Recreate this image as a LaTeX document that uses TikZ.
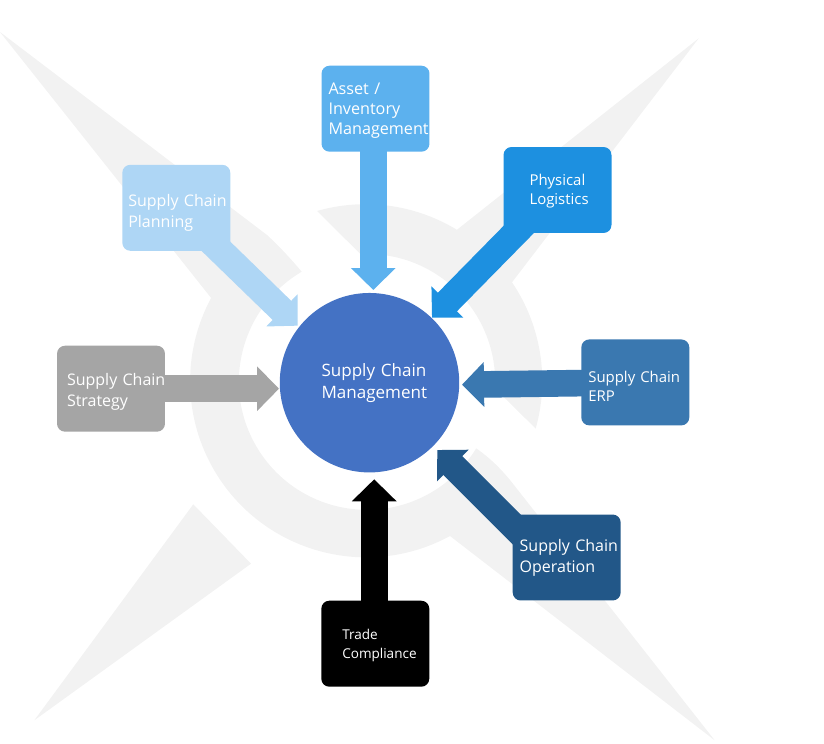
\documentclass[tikz,border=0pt]{standalone}
\usepackage{fontspec}
\setmainfont{Open Sans}
\usetikzlibrary{arrows.meta,backgrounds}
\definecolor{starfill}{HTML}{F2F2F2}
\definecolor{hubfill}{HTML}{4472C4}
\definecolor{planfill}{HTML}{AED6F5}
\definecolor{assetfill}{HTML}{5CB1EE}
\definecolor{physfill}{HTML}{1D90E0}
\definecolor{erpfill}{HTML}{3A78B0}
\definecolor{opfill}{HTML}{225788}
\definecolor{stratfill}{HTML}{A5A5A5}
\newcommand{\dropline}[1]{\rule{0pt}{#1}}
\tikzset{
  chainbox/.style={rectangle, rounded corners=.16cm, minimum width=2.16cm, minimum height=1.72cm, inner sep=0pt, text=white, align=left, font=\fontsize{9.1}{11.95}\selectfont},
  smallbox/.style={chainbox, font=\fontsize{8.5}{10.8}\selectfont},
  flow/.style={line width=.533cm, -{Triangle[length=.44cm,width=.87cm]}}
}
\begin{document}
\begin{tikzpicture}[x=0.02cm,y=-0.02cm]
  \useasboundingbox (0,0) rectangle (824,743);
  \node[circle, fill=hubfill, minimum size=3.59cm, inner sep=0pt, text=white, align=left, text width=1.92cm, font=\fontsize{9.7}{12.5}\selectfont] (hub) at (369.5,382.7) {Supply~Chain\\Management};
  \node[chainbox, fill=planfill, text width=1.92cm] (planning) at (176.3,207.8) {\dropline{13pt}Supply~Chain\\Planning};
  \node[chainbox, fill=assetfill, text width=1.88cm, font=\fontsize{9.2}{11.4}\selectfont] (asset) at (375.5,108.7) {\dropline{8.5pt}Asset /\\Inventory\\Management};
  \node[smallbox, fill=physfill, text width=1.12cm] (physical) at (557.5,190) {\dropline{7.8pt}Physical\\Logistics};
  \node[smallbox, fill=erpfill, text width=1.88cm] (erp) at (635.3,382.4) {\dropline{11pt}Supply~Chain\\ERP};
  \node[chainbox, fill=opfill, text width=1.88cm] (operation) at (566.7,557.5) {Supply~Chain\\Operation};
  \node[smallbox, fill=black, text width=1.32cm, font=\fontsize{7.7}{10.8}\selectfont] (trade) at (375.3,643.7) {\dropline{7.8pt}Trade\\Compliance};
  \node[chainbox, fill=stratfill, text width=1.76cm] (strategy) at (111,388.7) {\dropline{10pt}Supply~Chain\\Strategy};
  \coordinate (planningtip) at (297.7,325.7);
  \coordinate (assettip) at (373.3,290);
  \coordinate (physicaltip) at (432,317.7);
  \coordinate (erptip) at (462,384.7);
  \coordinate (operationtip) at (437.3,450);
  \coordinate (tradetip) at (374.2,479.3);
  \coordinate (strategytip) at (279,388.7);
  \begin{scope}[on background layer]
    \fill[starfill] (0,32) -- (267,235) .. controls (279,246) and (291,259) .. (301.7,271.7)
      arc[start angle=120.6, end angle=328.7, radius=2.56cm]
      .. controls (490,458) and (500,468) .. (510,480) -- (714.7,740.3) -- (450,536)
      arc[start angle=298.5, end angle=151.7, radius=3.52cm] -- cycle;
    \fill[starfill] (317,211) arc[start angle=106, end angle=58.7, radius=3.52cm]
      -- (698.7,38.3) -- (512,282.3)
      arc[start angle=34.1, end angle=-15.7, radius=3.52cm] -- (495,388.4)
      arc[start angle=-2.9, end angle=93, radius=2.56cm] -- cycle;
    \fill[starfill] (34.3,720.3) -- (193.3,504.3) -- (251,563.7) -- cycle;
    \draw[flow, planfill] (planning.center) -- (planningtip);
    \draw[flow, assetfill] (assettip |- asset.center) -- (assettip);
    \draw[flow, physfill] (physical.center) -- (physicaltip);
    \draw[flow, erpfill] (erp.center) -- (erptip);
    \draw[flow, opfill] ([shift={(20,31)}]operation.north west) -- (operationtip);
    \draw[flow, black] (tradetip |- trade.center) -- (tradetip);
    \draw[flow, stratfill] (strategy.center) -- (strategytip);
  \end{scope}
\end{tikzpicture}
\end{document}
